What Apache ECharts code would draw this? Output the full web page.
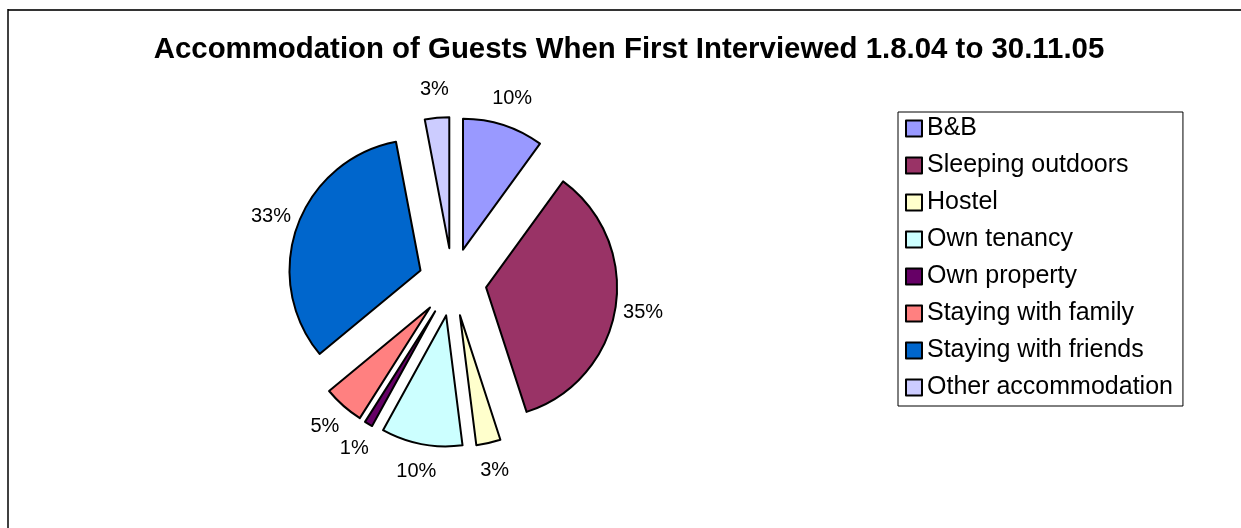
<!DOCTYPE html>
<html>
<head>
<meta charset="utf-8">
<script src="https://cdn.jsdelivr.net/npm/echarts@6/dist/echarts.min.js"></script>
<style>
html,body{margin:0;padding:0;background:#fff;}
#chart{width:1241px;height:528px;}
</style>
</head>
<body>
<div id="chart"></div>
<script>
const categories = ['B&B','Sleeping outdoors','Hostel','Own tenancy','Own property','Staying with family','Staying with friends','Other accommodation'];
const values = [10,35,3,10,1,5,33,3];
const colors = ['#9999FF','#993366','#FFFFCC','#CCFFFF','#660066','#FF8080','#0066CC','#CCCCFF'];
const titleText = 'Accommodation of Guests When First Interviewed 1.8.04 to 30.11.05';

const chart = echarts.init(document.getElementById('chart'), null, {renderer:'canvas'});
const font = 'Liberation Sans, Arial, sans-serif';
const pieData = categories.map((c,i)=>({name:c, value:values[i], selected:true, itemStyle:{color:colors[i]}}));

chart.setOption({
  animation:false,
  backgroundColor:'#fff',
  title:{
    text:titleText, left:624, top:30, textAlign:'center',
    textStyle:{fontFamily:font, fontWeight:'bold', fontSize:29.4, color:'#000'}
  },
  legend:{
    orient:'vertical', left:898, top:112,
    data:categories,
    icon:'rect', itemWidth:16, itemHeight:16, itemGap:12,
    padding:[4,10,6,7],
    borderColor:'#000', borderWidth:1,
    selectedMode:false,
    textStyle:{fontFamily:font, fontSize:25, color:'#000'}
  },
  graphic:[
    {type:'line', shape:{x1:8, y1:10, x2:1241, y2:10}, style:{stroke:'#333', lineWidth:2}},
    {type:'line', shape:{x1:8, y1:9, x2:8, y2:528}, style:{stroke:'#000', lineWidth:1.5}}
  ],
  series:[
    {
      type:'pie', center:[452.5,282], radius:[0,131], startAngle:90, clockwise:true,
      selectedMode:'multiple', selectedOffset:34,
      avoidLabelOverlap:false, silent:true, percentPrecision:0, minShowLabelAngle:0,
      itemStyle:{borderColor:'#000', borderWidth:2},
      label:{show:true, position:'outside', formatter:'{d}%', fontFamily:font, fontSize:20, color:'#000', distanceToLabelLine:0},
      labelLine:{show:false, length:28, length2:0},
      labelLayout:{align:'center', verticalAlign:'middle', hideOverlap:false, moveOverlap:null},
      emphasis:{disabled:true},
      data:pieData
    }
  ]
});
</script>
</body>
</html>
